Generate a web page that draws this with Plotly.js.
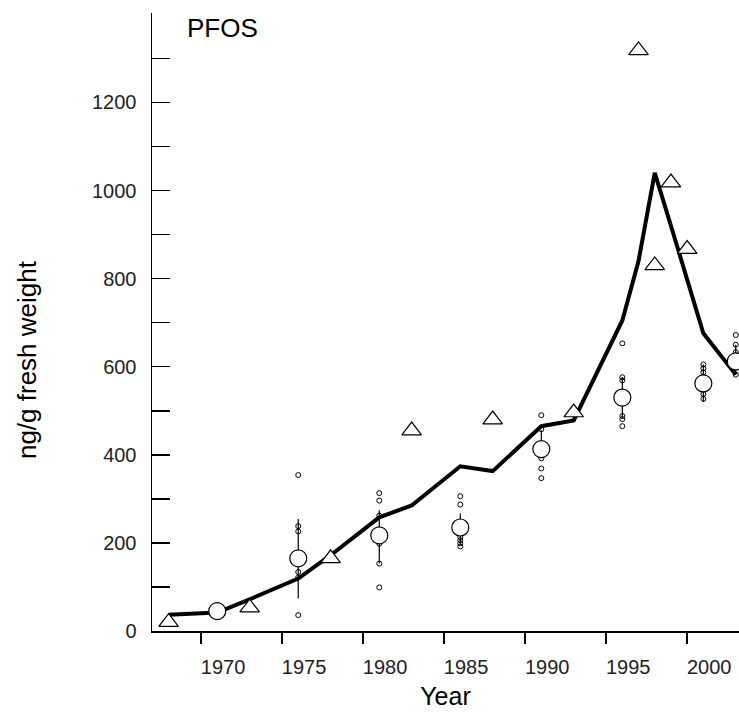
<!DOCTYPE html>
<html>
<head>
<meta charset="utf-8">
<script src="https://cdn.plot.ly/plotly-3.0.1.min.js"></script>
<style>html,body{margin:0;padding:0;background:#fff;}#chart{width:739px;height:719px;}</style>
</head>
<body>
<div id="chart"></div>
<script>
// Pooled samples (triangles)
const pooledYears  = [1968, 1973, 1978, 1983, 1988, 1993, 1997, 1998, 1999, 2000];
const pooledValues = [20, 53, 165, 455, 480, 496, 1318, 830, 1018, 867];

// Individual-sample means (circles) with ranges
const meanYears  = [1971, 1976, 1981, 1986, 1991, 1996, 2001, 2003];
const meanValues = [45, 165, 217, 235, 413, 530, 562, 612];
const rangeHigh  = [45, 254, 274, 267, 456, 576, 605, 650];
const rangeLow   = [45, 74, 153, 195, 392, 483, 520, 582];

// Individual samples (small open circles)
const indivYears = [
  1976,1976,1976,1976,1976,1976,
  1981,1981,1981,1981,1981,1981,
  1986,1986,1986,1986,1986,1986,
  1991,1991,1991,1991,1991,
  1996,1996,1996,1996,1996,1996,
  2001,2001,2001,2001,2001,2001,
  2003,2003,2003,2003,2003
];
const indivValues = [
  354,238,226,134,122,36,
  313,296,262,198,153,99,
  306,287,213,206,199,192,
  490,458,392,369,347,
  653,576,569,488,481,465,
  605,596,587,549,538,527,
  672,650,633,600,582
];

// Trend line
const trendYears  = [1968, 1971, 1973, 1976, 1978, 1981, 1983, 1986, 1988, 1991, 1993, 1996, 1997, 1998, 1999, 2000, 2001, 2003];
const trendValues = [37, 42, 72, 119, 172, 258, 285, 374, 363, 465, 478, 705, 840, 1040, 920, 800, 676, 582];

// Axis ticks
const xTickYears  = [1970, 1975, 1980, 1985, 1990, 1995, 2000];
const xTickLabels = ['1970', '1975', '1980', '1985', '1990', '1995', '2000'];
const yTickVals   = [0,100,200,300,400,500,600,700,800,900,1000,1100,1200,1300];
const yTickLabels = ['0','','200','','400','','600','','800','','1000','','1200',''];

const xRange = [1966.975, 2003.2];
const labelShift = 1.36;

const traces = [
  {
    x: trendYears, y: trendValues, type: 'scatter', mode: 'lines',
    line: {color: '#000', width: 4}, hoverinfo: 'skip', showlegend: false
  },
  {
    x: indivYears, y: indivValues, type: 'scatter', mode: 'markers',
    marker: {symbol: 'circle-open', size: 5, color: '#000', line: {width: 1, color: '#000'}},
    showlegend: false
  },
  {
    x: meanYears, y: meanValues, type: 'scatter', mode: 'markers',
    marker: {symbol: 'circle', size: 17, color: '#fff', line: {width: 1.2, color: '#000'}},
    error_y: {
      type: 'data', symmetric: false,
      array: meanValues.map((v, i) => rangeHigh[i] - v),
      arrayminus: meanValues.map((v, i) => v - rangeLow[i]),
      width: 0, thickness: 1.2, color: '#000'
    },
    showlegend: false
  },
  {
    x: pooledYears, y: pooledValues, type: 'scatter', mode: 'markers',
    marker: {symbol: 'triangle-up', size: 17, color: '#fff', line: {width: 1.2, color: '#000'}},
    showlegend: false
  },
  {
    x: [trendYears[0]], y: [trendValues[0]], xaxis: 'x2', type: 'scatter', mode: 'markers',
    marker: {opacity: 0}, hoverinfo: 'skip', showlegend: false
  }
];

const layout = {
  width: 739, height: 719,
  margin: {l: 152, r: 0, t: 13, b: 88},
  paper_bgcolor: '#fff', plot_bgcolor: '#fff',
  font: {family: 'Liberation Sans, Arial, sans-serif', color: '#000'},
  showlegend: false,
  xaxis: {
    range: xRange, tickvals: xTickYears, showticklabels: false,
    ticks: 'outside', ticklen: 11, tickwidth: 1.5, tickcolor: '#000',
    showline: true, linewidth: 1.5, linecolor: '#000',
    showgrid: false, zeroline: false
  },
  xaxis2: {
    overlaying: 'x', anchor: 'y', side: 'bottom', range: xRange,
    tickvals: xTickYears.map(v => v + labelShift), ticktext: xTickLabels,
    ticks: '', showline: false, showgrid: false, zeroline: false,
    tickfont: {size: 20, color: '#222'}, ticklabelstandoff: 22,
    title: {text: 'Year', font: {size: 25, color: '#000'}, standoff: 10}
  },
  yaxis: {
    range: [0, 1403], tickvals: yTickVals, ticktext: yTickLabels,
    ticks: 'inside', ticklen: 18, tickwidth: 1.5, tickcolor: '#000',
    showline: true, linewidth: 1.5, linecolor: '#000',
    showgrid: false, zeroline: false,
    tickfont: {size: 20, color: '#222'}, ticklabelstandoff: 10
  },
  annotations: [
    {text: 'PFOS', xref: 'paper', yref: 'paper', x: 0.056, y: 0.976,
     xanchor: 'left', yanchor: 'middle', showarrow: false, font: {size: 26, color: '#000'}},
    {text: 'ng/g fresh weight', xref: 'paper', yref: 'paper', x: -0.213, y: 0.44,
     xanchor: 'center', yanchor: 'middle', textangle: -90, showarrow: false,
     font: {size: 26, color: '#000'}}
  ]
};

Plotly.newPlot('chart', traces, layout, {staticPlot: true, displayModeBar: false});
</script>
</body>
</html>
